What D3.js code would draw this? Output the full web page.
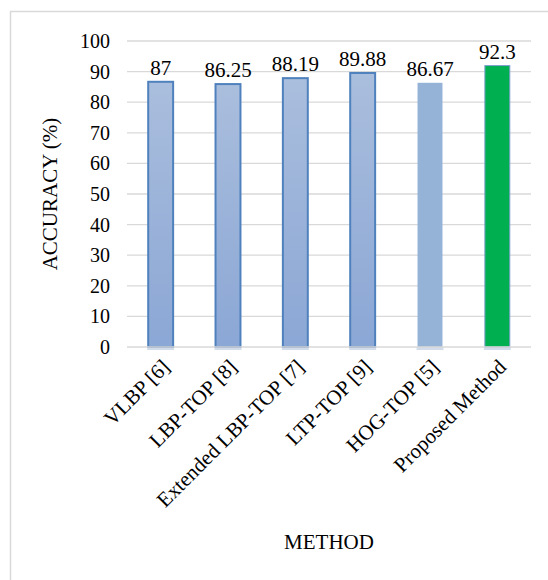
<!DOCTYPE html>
<html>
<head>
<meta charset="utf-8">
<script src="https://cdn.jsdelivr.net/npm/d3@7"></script>
<style>
  html, body { margin: 0; padding: 0; background: #fff; }
  svg { display: block; }
  svg text { font-family: "Liberation Serif", "Times New Roman", Tinos, "DejaVu Serif", serif !important; fill: #000; }
</style>
</head>
<body>
<svg id="chart" width="548" height="580"></svg>
<script>
// Accuracy per method
const methods = ["VLBP [6]", "LBP-TOP [8]", "Extended LBP-TOP [7]", "LTP-TOP [9]", "HOG-TOP [5]", "Proposed Method"];
const accuracy = [87, 86.25, 88.19, 89.88, 86.67, 92.3];
const valueLabels = ["87", "86.25", "88.19", "89.88", "86.67", "92.3"];
const yTicks = [0, 10, 20, 30, 40, 50, 60, 70, 80, 90, 100];

const FONT = "'Liberation Serif', 'Times New Roman', Tinos, 'DejaVu Serif', serif";

const svg = d3.select("#chart");
const margin = { left: 127, right: 17, top: 41, bottom: 233 };
const W = 548, H = 580;
const plotW = W - margin.left - margin.right;
const plotH = H - margin.top - margin.bottom;

// Outer frame
svg.append("rect")
  .attr("x", 10.5).attr("y", 11.5)
  .attr("width", 560).attr("height", 600)
  .attr("fill", "none").attr("stroke", "#d9d9d9").attr("stroke-width", 1.5);

const defs = svg.append("defs");
const grad = defs.append("linearGradient")
  .attr("id", "barGrad").attr("x1", 0).attr("y1", 0).attr("x2", 0).attr("y2", 1);
grad.append("stop").attr("offset", "0%").attr("stop-color", "#aabedd");
grad.append("stop").attr("offset", "100%").attr("stop-color", "#8ba7d5");

const g = svg.append("g").attr("transform", `translate(${margin.left},${margin.top})`);

const x = d3.scaleBand().domain(methods).range([0, plotW]).paddingInner(0.6).paddingOuter(0.3);
const y = d3.scaleLinear().domain([0, 100]).range([plotH, 0]);

// Gridlines
g.append("g")
  .selectAll("line")
  .data(yTicks.filter(t => t > 0))
  .join("line")
  .attr("x1", 0).attr("x2", plotW)
  .attr("y1", d => y(d)).attr("y2", d => y(d))
  .attr("stroke", "#d9d9d9").attr("stroke-width", 1.3);

// Y axis tick labels
const yAxis = d3.axisLeft(y).tickValues(yTicks).tickSize(0).tickPadding(17);
const yg = g.append("g").call(yAxis).attr("font-family", null).attr("font-size", null);
yg.select(".domain").remove();
yg.selectAll("text")
  .style("font-family", FONT)
  .style("font-size", "20px").attr("fill", "#000");

// Bar shadow under the baseline
g.append("g")
  .selectAll("rect")
  .data(methods)
  .join("rect")
  .attr("x", d => x(d))
  .attr("y", plotH)
  .attr("width", x.bandwidth())
  .attr("height", 3)
  .attr("fill", "#d3dcea");

// Bars
const fills = ["url(#barGrad)", "url(#barGrad)", "url(#barGrad)", "url(#barGrad)", "#95b3d7", "#00b050"];
const strokes = ["#4f81bd", "#4f81bd", "#4f81bd", "#4f81bd", "none", "#7f9ed0"];
const strokeW = [2, 2, 2, 2, 0, 1];
g.append("g")
  .selectAll("rect")
  .data(methods)
  .join("rect")
  .attr("x", (d) => x(d) + 1)
  .attr("y", (d, i) => y(accuracy[i]) + 1)
  .attr("width", x.bandwidth() - 2)
  .attr("height", (d, i) => plotH - y(accuracy[i]) - 1)
  .attr("fill", (d, i) => fills[i])
  .attr("stroke", (d, i) => strokes[i])
  .attr("stroke-width", (d, i) => strokeW[i]);

// Baseline
g.append("line")
  .attr("x1", 0).attr("x2", plotW)
  .attr("y1", plotH).attr("y2", plotH)
  .attr("stroke", "#d9d9d9").attr("stroke-width", 1.5);

// Value labels
g.append("g")
  .selectAll("text")
  .data(methods)
  .join("text")
  .attr("x", d => x(d) + x.bandwidth() / 2)
  .attr("y", (d, i) => y(accuracy[i]) - 6)
  .attr("text-anchor", "middle")
  .style("font-family", FONT)
  .style("font-size", "21px")
  .text((d, i) => valueLabels[i]);

// Category labels, rotated
g.append("g")
  .selectAll("text")
  .data(methods)
  .join("text")
  .attr("transform", d => `translate(${x(d) + x.bandwidth() / 2 + 5},${plotH + 16}) rotate(-45)`)
  .attr("text-anchor", "end")
  .attr("dy", "0.35em")
  .style("font-family", FONT)
  .style("font-size", "21px")
  .text(d => d);

// Axis titles
svg.append("text")
  .attr("transform", `translate(57,${margin.top + plotH / 2}) rotate(-90)`)
  .attr("text-anchor", "middle")
  .style("font-family", FONT)
  .style("font-size", "21px")
  .text("ACCURACY (%)");

svg.append("text")
  .attr("x", 329).attr("y", 549)
  .attr("text-anchor", "middle")
  .style("font-family", FONT)
  .style("font-size", "21px")
  .text("METHOD");
</script>
</body>
</html>
